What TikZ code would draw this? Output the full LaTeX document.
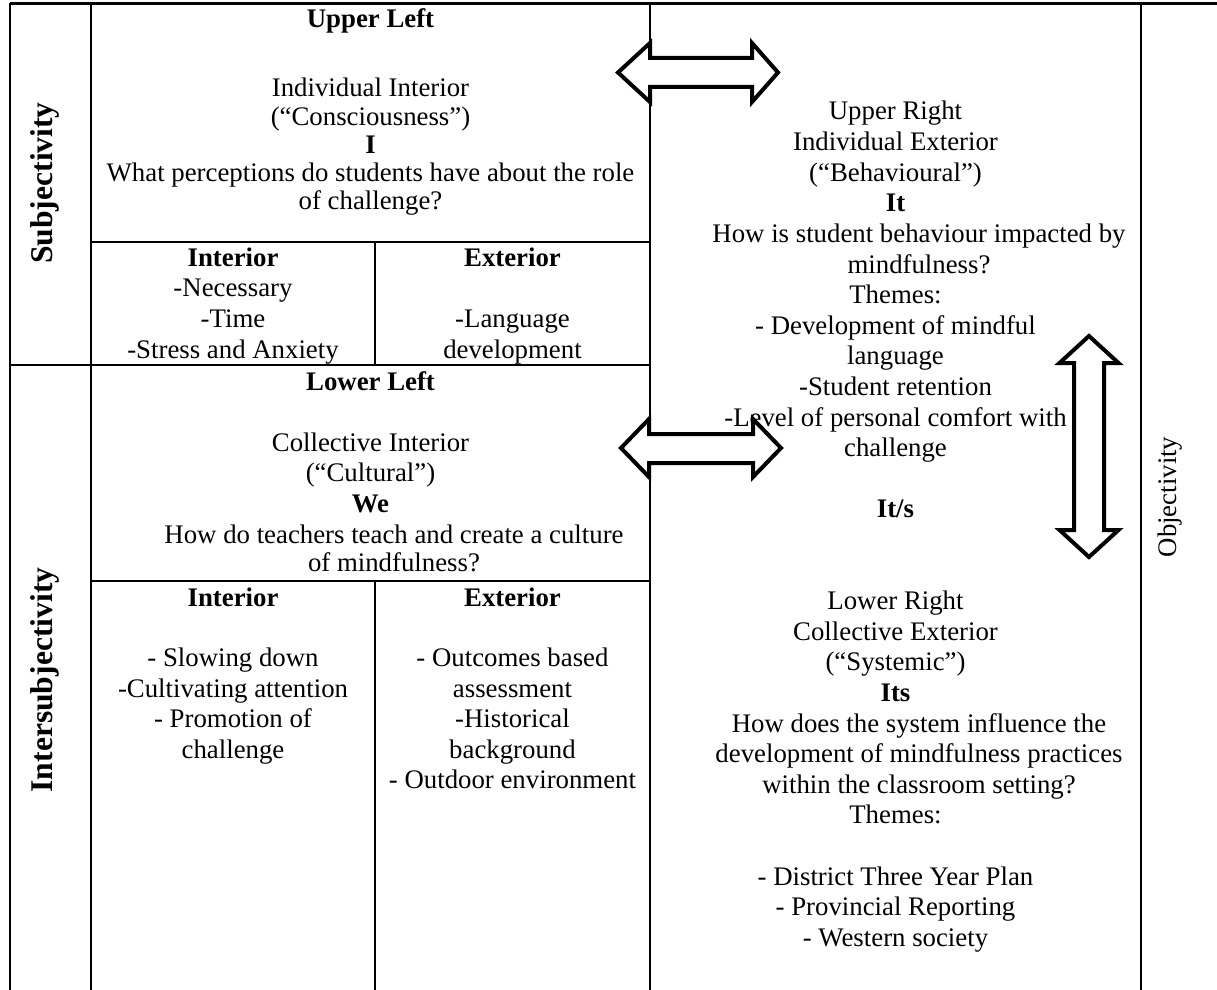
\documentclass[tikz,border=0pt]{standalone}
\usepackage{fontspec}
\setmainfont{Liberation Serif}
\begin{document}
\begin{tikzpicture}[x=0.5pt,y=-0.5pt,
  rule/.style={line width=1.15pt},
  % multi-line blocks are placed by the baseline of their last line
  txt/.style={align=center,inner sep=0pt,anchor=base,
              font=\fontsize{13.4}{#1}\selectfont},
  txt/.default=15.3pt,
  sidelabel/.style={inner sep=0pt,rotate=90,anchor=center,
              font=\fontsize{15.8}{18}\selectfont\bfseries},
  bigarrow/.style={draw=black,fill=white,line width=2pt,line join=miter}
]
\useasboundingbox (0,0) rectangle (1217,990);

% table rules
\draw[rule] (10,3.5) -- (1217,3.5);
\draw[rule] (10,3.5) -- (10,990);
\draw[rule] (91,3.5) -- (91,990);
\draw[rule] (650,3.5) -- (650,990);
\draw[rule] (1141,3.5) -- (1141,990);
\draw[rule] (91,242) -- (650,242);
\draw[rule] (10,365) -- (650,365);
\draw[rule] (91,581) -- (650,581);
\draw[rule] (375,242) -- (375,365);
\draw[rule] (375,581) -- (375,990);

% side labels
\node[sidelabel] (subj) at (45,183) {Subjectivity};
\node[sidelabel] (intersubj) at (45,680) {Intersubjectivity};
\node[inner sep=0pt,rotate=90,font=\fontsize{13.4}{15.3}\selectfont] (obj) at (1170,497) {Objectivity};

% upper left quadrant
\node[txt] (ulTitle) at (370.5,28) {\textbf{Upper Left}};
\node[txt=14.1pt] (ulBody) at (370.5,209.8) {Individual Interior\\(“Consciousness”)\\\textbf{I}\\What perceptions do students have about the role\\of challenge?};
\node[txt=15.35pt] (uiCell) at (233,358.1) {\textbf{Interior}\\-Necessary\\-Time\\-Stress and Anxiety};
\node[txt=15.35pt] (ueCell) at (512.5,358.1) {\textbf{Exterior}\\\mbox{}\\-Language\\development};

% lower left quadrant
\node[txt=15.25pt] (llBody) at (370.5,512) {\textbf{Lower Left}\\\mbox{}\\Collective Interior\\(“Cultural”)\\\textbf{We}};
\node[txt=14.2pt] (llQuestion) at (394,571.4) {How do teachers teach and create a culture\\of mindfulness?};
\node[txt=15.2pt] (liCell) at (233,758) {\textbf{Interior}\\\mbox{}\\- Slowing down\\-Cultivating attention\\- Promotion of\\challenge};
\node[txt=15.2pt] (leCell) at (512.5,788.4) {\textbf{Exterior}\\\mbox{}\\- Outcomes based\\assessment\\-Historical\\background\\- Outdoor environment};

% right-hand quadrants
\node[txt] (urHead) at (895.5,211.8) {Upper Right\\Individual Exterior\\(“Behavioural”)\\\textbf{It}};
\node[txt] (urQuestion) at (919,273) {How is student behaviour impacted by\\mindfulness?};
\node[txt] (rMid) at (895.5,701.4) {Themes:\\- Development of mindful\\language\\-Student retention\\-Level of personal comfort with\\challenge\\\mbox{}\\\textbf{It/s}\\\mbox{}\\\mbox{}\\Lower Right\\Collective Exterior\\(“Systemic”)\\\textbf{Its}};
\node[txt] (lrQuestion) at (919,793.2) {How does the system influence the\\development of mindfulness practices\\within the classroom setting?};
\node[txt] (lrThemes) at (895.5,946.2) {Themes:\\\mbox{}\\- District Three Year Plan\\- Provincial Reporting\\- Western society};

% block arrows
\draw[bigarrow] (618,72.5) -- (650,43) -- (650,58) -- (752,58) -- (752,43) -- (778,72.5)
  -- (752,102) -- (752,87) -- (650,87) -- (650,102) -- cycle;
\draw[bigarrow] (621,448) -- (649,419) -- (649,434) -- (753,434) -- (753,419) -- (781,448)
  -- (753,477) -- (753,463) -- (649,463) -- (649,477) -- cycle;
\draw[bigarrow] (1089,336) -- (1118.5,363) -- (1104,363) -- (1104,530) -- (1118.5,530)
  -- (1089,557) -- (1059.5,530) -- (1074,530) -- (1074,363) -- (1059.5,363) -- cycle;
\end{tikzpicture}
\end{document}
